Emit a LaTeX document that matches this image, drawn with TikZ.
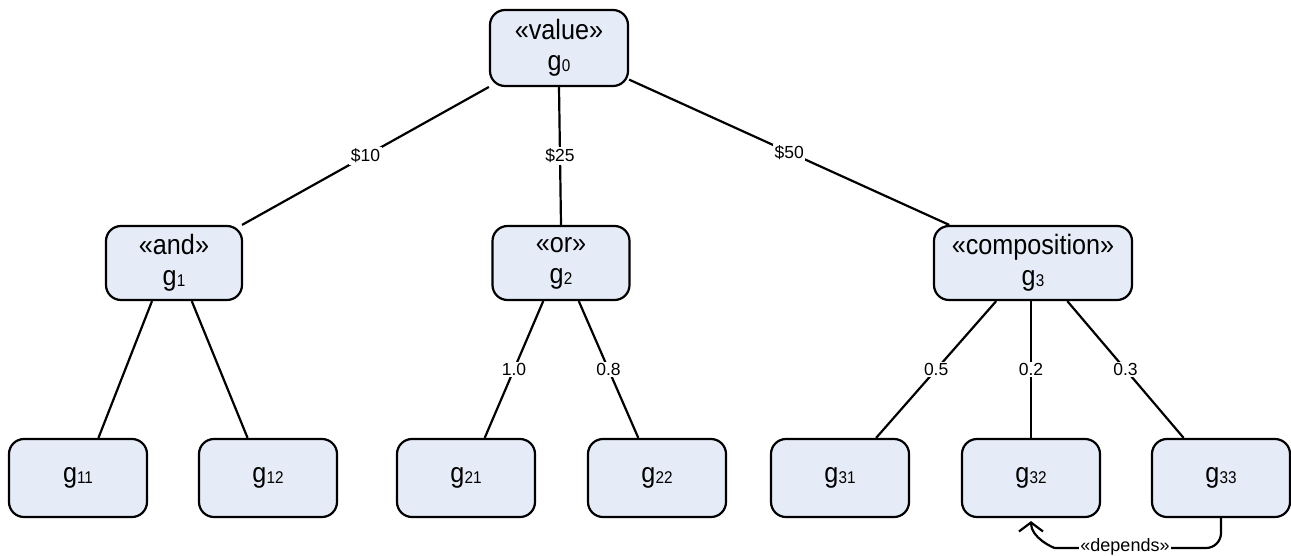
\documentclass[tikz,border=0pt]{standalone}
\usepackage{fontspec}
\setmainfont{Liberation Sans}
\newfontfamily\goalfont[FakeStretch=0.9]{Liberation Sans}
\usetikzlibrary{arrows.meta}
\definecolor{goalfill}{RGB}{230,236,247}
\newcommand{\gsub}[1]{\raisebox{-1pt}{\fontsize{17}{17}\selectfont #1}}
\tikzset{
  goal/.style={draw=black, line width=2.2pt, fill=goalfill, rounded corners=15pt,
    align=center, minimum height=76pt, minimum width=138pt, inner sep=2pt,
    font=\goalfont\fontsize{28}{31}\selectfont},
  leaf/.style={goal, minimum height=78pt},
  link/.style={line width=2.2pt, black},
  weight/.style={fill=white, inner sep=1.5pt, font=\fontsize{17.5}{20}\selectfont},
  depends/.style={line width=2.2pt, black, rounded corners=15pt,
    -{Straight Barb[length=9pt, width=24pt, line width=2.2pt]}}
}
\begin{document}
\begin{tikzpicture}[x=1pt,y=1pt]
\useasboundingbox (0,0) rectangle (1291,-555);

% goal tree
\node[goal] (g0) at (559,-48) {«value»\\g\gsub{0}};
\node[goal, minimum width=136pt, minimum height=74pt] (g1) at (174,-263) {«and»\\g\gsub{1}};
\node[goal, minimum width=137pt, minimum height=74pt] (g2) at (561,-263) {«or»\\g\gsub{2}};
\node[goal, minimum width=198pt, minimum height=74pt] (g3) at (1033,-263) {«composition»\\g\gsub{3}};

\node[leaf] (g11) at (78,-478) {g\gsub{11}};
\node[leaf] (g12) at (268,-478) {g\gsub{12}};
\node[leaf] (g21) at (466,-478) {g\gsub{21}};
\node[leaf] (g22) at (657,-478) {g\gsub{22}};
\node[leaf] (g31) at (840,-478) {g\gsub{31}};
\node[leaf] (g32) at (1031,-478) {g\gsub{32}};
\node[leaf] (g33) at (1221,-478) {g\gsub{33}};

% decomposition links with their weights
\draw[link] (g0) -- node[weight] (w1) {\$10} (g1);
\draw[link] (g0.south) -- node[weight] (w2) {\$25} (g2.north);
\draw[link] (g0) -- node[weight] (w3) {\$50} (g3);

\draw[link] (g1.240) -- (g11.63);
\draw[link] (g1.295) -- (g12.117);

\draw[link] (g2.245) -- node[weight] (w21) {1.0} (g21.65);
\draw[link] (g2.295) -- node[weight] (w22) {0.8} (g22.115);

\draw[link] (g3.226) -- node[weight] (w31) {0.5} (g31.48);
\draw[link] (g3.south -| g32) -- node[weight] (w32) {0.2} (g32.north);
\draw[link] (g3.312) -- node[weight] (w33) {0.3} (g33.133);

% dependency between g33 and g32
\coordinate (dl) at (1070,-548);
\draw[depends] (g33.south) |- (dl) to[out=180,in=-90,looseness=0.9] ([yshift=-3pt]g32.south);
\node[weight, font=\fontsize{18}{20}\selectfont] (dep) at (1125,-547) {«depends»};
\end{tikzpicture}
\end{document}
